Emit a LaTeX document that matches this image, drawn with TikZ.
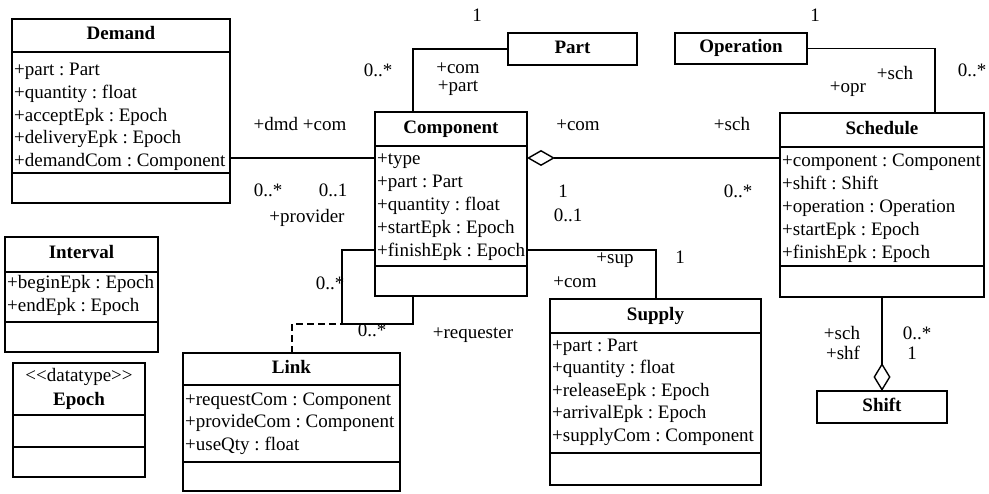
\documentclass[tikz,border=0pt]{standalone}
\usepackage{fontspec}
\setmainfont{Liberation Serif}
\usetikzlibrary{arrows.meta}
\frenchspacing
\newcommand{\umlbox}[5]{\node[box, minimum width={#4-#2}, minimum height={#5-#3}] (#1) at (#2,#3) {};}
\begin{document}
\begin{tikzpicture}[x=1pt,y=-1pt,
  box/.style={draw, line width=1.5pt, anchor=north west, inner sep=0pt, outer sep=0pt},
  div/.style={line width=1.3pt},
  ttl/.style={font=\fontsize{19}{23}\selectfont\bfseries\frenchspacing, inner sep=0pt, text height=13.5pt, text depth=4.5pt},
  attr/.style={font=\fontsize{19}{23}\selectfont\frenchspacing, inner sep=0pt, anchor=west, text height=13.5pt, text depth=4.5pt},
  lbl/.style={font=\fontsize{19}{23}\selectfont\frenchspacing, inner sep=0pt, text height=13.5pt, text depth=4.5pt},
  assoc/.style={line width=1.4pt},
  diam/.style={line width=1.4pt},
  dep/.style={line width=1.4pt, dashed, dash pattern=on 7pt off 4pt}
]
\useasboundingbox (0,0) rectangle (989,494);

% ---------- Demand ----------
\umlbox{demand}{12}{19}{230}{203}
\draw[div] (12,52) -- (230,52);
\draw[div] (12,173) -- (230,173);
\node[ttl] (demandT) at (121,35) {Demand};
\foreach \t [count=\i] in {+part : Part,+quantity : float,+acceptEpk : Epoch,+deliveryEpk : Epoch,+demandCom : Component}
  \node[attr] (demandA\i) at (14,{71+22.8*(\i-1)}) {\t};

% ---------- Interval ----------
\umlbox{interval}{5}{237}{158}{352}
\draw[div] (5,272) -- (158,272);
\draw[div] (5,322) -- (158,322);
\node[ttl] (intervalT) at (81.5,254) {Interval};
\foreach \t [count=\i] in {+beginEpk : Epoch,+endEpk : Epoch}
  \node[attr] (intervalA\i) at (7,{284+23*(\i-1)}) {\t};

% ---------- Epoch ----------
\umlbox{epoch}{13}{363}{145}{477}
\draw[div] (13,415) -- (145,415);
\draw[div] (13,447) -- (145,447);
\node[lbl] (epochS) at (79,377) {<\kern0pt<datatype>\kern0pt>};
\node[ttl] (epochT) at (79,401) {Epoch};

% ---------- Link ----------
\umlbox{link}{183}{353}{400}{491}
\draw[div] (183,385) -- (400,385);
\draw[div] (183,462) -- (400,462);
\node[ttl] (linkT) at (291.5,369) {Link};
\foreach \t [count=\i] in {+requestCom : Component,+provideCom : Component,+useQty : float}
  \node[attr] (linkA\i) at (185,{401+22.5*(\i-1)}) {\t};

% ---------- Component ----------
\umlbox{component}{375}{112}{527}{296}
\draw[div] (375,146) -- (527,146);
\draw[div] (375,266) -- (527,266);
\node[ttl] (componentT) at (451,129) {Component};
\foreach \t [count=\i] in {+type,+part : Part,+quantity : float,+startEpk : Epoch,+finishEpk : Epoch}
  \node[attr] (componentA\i) at (377,{160+23*(\i-1)}) {\t};

% ---------- Part ----------
\umlbox{part}{508}{33}{637}{65}
\node[ttl] (partT) at (572.5,49) {Part};

% ---------- Operation ----------
\umlbox{operation}{675}{33}{807}{64}
\node[ttl] (operationT) at (741,48.5) {Operation};

% ---------- Schedule ----------
\umlbox{schedule}{780}{113}{984}{297}
\draw[div] (780,147) -- (984,147);
\draw[div] (780,266) -- (984,266);
\node[ttl] (scheduleT) at (882,130) {Schedule};
\foreach \t [count=\i] in {+component : Component,+shift : Shift,+operation : Operation,+startEpk : Epoch,+finishEpk : Epoch}
  \node[attr] (scheduleA\i) at (782,{162+23*(\i-1)}) {\t};

% ---------- Supply ----------
\umlbox{supply}{550}{299}{761}{485}
\draw[div] (550,333) -- (761,333);
\draw[div] (550,453) -- (761,453);
\node[ttl] (supplyT) at (655.5,316) {Supply};
\foreach \t [count=\i] in {+part : Part,+quantity : float,+releaseEpk : Epoch,+arrivalEpk : Epoch,+supplyCom : Component}
  \node[attr] (supplyA\i) at (552,{347+22.5*(\i-1)}) {\t};

% ---------- Shift ----------
\umlbox{shift}{817}{391}{947}{423}
\node[ttl] (shiftT) at (882,407) {Shift};

% ---------- Connectors ----------
\draw[assoc] (demand.east |- 0,158) -- (component.west |- 0,158);
\draw[assoc] (part.west) -| (413,0 |- component.north);
\draw[assoc] (operation.east) -| (935,0 |- schedule.north);
\draw[diam, {Diamond[open,length=28pt,width=16pt,line width=1.4pt]}-] (component.east |- 0,158) -- (schedule.west |- 0,158);
\draw[assoc] (component.east |- 0,250) -| (656,0 |- supply.north);
\coordinate (loopc) at (342,324);
\draw[assoc] (component.west |- 0,250) -| (loopc) -| (413,0 |- component.south);
\draw[dep] (292,0 |- link.north) |- (loopc);
\draw[diam, -{Diamond[open,length=28pt,width=17pt,line width=1.4pt]}] (882,0 |- schedule.south) -- (882,0 |- shift.north);

% ---------- Labels ----------
\node[lbl] (l1) at (477,17) {1};
\node[lbl] (l2) at (378,72) {0..*};
\node[lbl] (l3) at (458,69) {+com};
\node[lbl] (l4) at (458,87) {+part};
\node[lbl] (l5) at (578,126) {+com};
\node[lbl] (l6) at (300,126) {+dmd +com};
\node[lbl] (l7) at (268,192) {0..*};
\node[lbl] (l8) at (333,192) {0..1};
\node[lbl] (l9) at (307,218) {+provider};
\node[lbl] (l10) at (563,193) {1};
\node[lbl] (l11) at (568,217) {0..1};
\node[lbl] (l12) at (330,285) {0..*};
\node[lbl] (l13) at (372,332) {0..*};
\node[lbl] (l14) at (473,334) {+requester};
\node[lbl] (l15) at (615,259) {+sup};
\node[lbl] (l16) at (575,283) {+com};
\node[lbl] (l17) at (680,259) {1};
\node[lbl] (l18) at (815,17) {1};
\node[lbl] (l19) at (972,72) {0..*};
\node[lbl] (l20) at (848,88) {+opr};
\node[lbl] (l21) at (895,75) {+sch};
\node[lbl] (l22) at (732,126) {+sch};
\node[lbl] (l23) at (738,193) {0..*};
\node[lbl] (l24) at (842,335) {+sch};
\node[lbl] (l25) at (843,355) {+shf};
\node[lbl] (l26) at (917,335) {0..*};
\node[lbl] (l27) at (912,355) {1};
\end{tikzpicture}
\end{document}
